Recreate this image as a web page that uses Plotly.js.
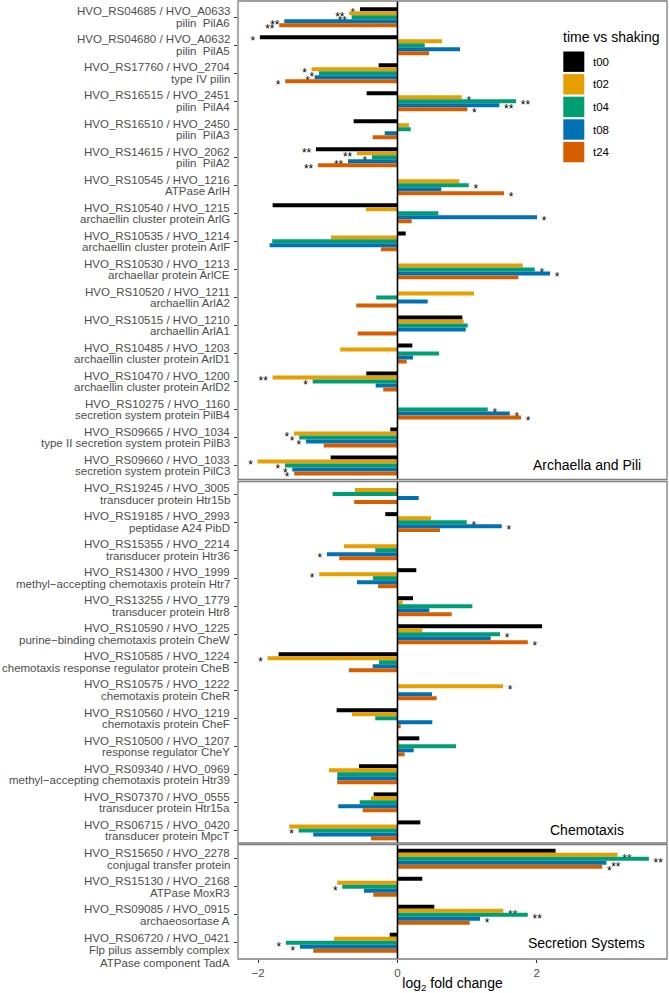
<!DOCTYPE html>
<html><head><meta charset="utf-8">
<script src="https://cdn.plot.ly/plotly-3.0.1.min.js"></script>
<style>html,body{margin:0;padding:0;background:#fff}</style>
</head><body><div id="chart" style="width:669px;height:993px"></div>
<script>
// ---------- DATA ----------
const panelNames = ["Archaella and Pili", "Chemotaxis", "Secretion Systems"];
const timePoints = ["t00", "t02", "t04", "t08", "t24"];
const timeColors = ["#000000", "#E69F00", "#009E73", "#0072B2", "#D55E00"];

const geneRS = [
  "HVO_RS04685","HVO_RS04680","HVO_RS17760","HVO_RS16515","HVO_RS16510","HVO_RS14615","HVO_RS10545","HVO_RS10540","HVO_RS10535",
  "HVO_RS10530","HVO_RS10520","HVO_RS10515","HVO_RS10485","HVO_RS10470","HVO_RS10275","HVO_RS09665","HVO_RS09660",
  "HVO_RS19245","HVO_RS19185","HVO_RS15355","HVO_RS14300","HVO_RS13255","HVO_RS10590","HVO_RS10585","HVO_RS10575",
  "HVO_RS10560","HVO_RS10500","HVO_RS09340","HVO_RS07370","HVO_RS06715",
  "HVO_RS15650","HVO_RS15130","HVO_RS09085","HVO_RS06720"];
const geneHVO = [
  "HVO_A0633","HVO_A0632","HVO_2704","HVO_2451","HVO_2450","HVO_2062","HVO_1216","HVO_1215","HVO_1214",
  "HVO_1213","HVO_1211","HVO_1210","HVO_1203","HVO_1200","HVO_1160","HVO_1034","HVO_1033",
  "HVO_3005","HVO_2993","HVO_2214","HVO_1999","HVO_1779","HVO_1225","HVO_1224","HVO_1222",
  "HVO_1219","HVO_1207","HVO_0969","HVO_0555","HVO_0420",
  "HVO_2278","HVO_2168","HVO_0915","HVO_0421"];
const geneDesc = [
  "pilin\u00a0 PilA6","pilin\u00a0 PilA5","type IV pilin","pilin\u00a0 PilA4","pilin\u00a0 PilA3","pilin\u00a0 PilA2",
  "ATPase ArlH","archaellin cluster protein ArlG","archaellin cluster protein ArlF","archaellar protein ArlCE",
  "archaellin ArlA2","archaellin ArlA1","archaellin cluster protein ArlD1","archaellin cluster protein ArlD2",
  "secretion system protein PilB4","type II secretion system protein PilB3","secretion system protein PilC3",
  "transducer protein Htr15b","peptidase A24 PibD","transducer protein Htr36","methyl\u2212accepting chemotaxis protein Htr7",
  "transducer protein Htr8","purine\u2212binding chemotaxis protein CheW","chemotaxis response regulator protein CheB",
  "chemotaxis protein CheR","chemotaxis protein CheF","response regulator CheY","methyl\u2212accepting chemotaxis protein Htr39",
  "transducer protein Htr15a","transducer protein MpcT",
  "conjugal transfer protein","ATPase MoxR3","archaeosortase A","Flp pilus assembly complex|ATPase component TadA"];
const genePanel = [0,0,0,0,0,0,0,0,0,0,0,0,0,0,0,0,0, 1,1,1,1,1,1,1,1,1,1,1,1,1, 2,2,2,2];

const t00 = [-0.539,-1.976,-0.270,-0.443,-0.629,-1.171,null,-1.793,0.118,null,null,0.931,0.213,-0.448,null,-0.103,-0.960,
  null,-0.175,null,0.270,0.223,2.076,-1.707,null,-0.874,0.313,-0.553,-0.342,0.328,
  2.27,0.356,0.529,-0.112];
const t02 = [-0.693,0.639,-1.233,0.922,0.165,-0.582,0.888,-0.453,-0.955,1.799,1.099,0.951,-0.822,-1.793,null,-1.487,-2.009,
  -0.611,0.481,-0.769,-1.124,0.075,0.356,-1.865,1.516,-0.654,0.026,-0.984,-0.381,-1.555,
  3.16,-0.865,1.52,-0.912];
const t04 = [-0.658,0.391,-1.128,1.703,0.190,-0.366,1.023,0.586,-1.799,1.971,-0.305,1.009,0.596,-1.218,1.296,-1.411,-1.616,
  -0.931,0.994,-0.319,-0.352,1.075,1.473,-0.266,null,-0.319,0.841,-0.865,-0.543,-1.420,
  3.61,-0.793,1.871,-1.602];
const t08 = [-1.626,0.898,-1.190,1.463,-0.184,-0.711,0.629,2.004,-1.836,2.191,0.434,0.980,0.223,-0.313,1.612,-1.315,-1.511,
  0.305,1.497,-1.013,-0.582,0.457,1.339,-0.356,0.496,0.500,0.233,-0.865,-0.851,-1.210,
  3.00,-0.481,1.185,-1.401];
const t24 = [-1.698,0.453,-1.612,1.003,-0.356,-1.142,1.530,0.204,-0.237,1.736,-0.592,-0.572,0.132,-0.204,1.774,-1.060,-1.483,
  -0.621,0.611,-0.836,-0.280,0.779,1.871,-0.697,0.563,0.046,0.103,-0.865,-0.500,-0.381,
  2.94,-0.348,1.037,-1.210];

const sig00 = ["*","*","","","","**","","","","","","","","","","","", "","","","","","","","","","","","","", "","","",""];
const sig02 = ["**","","*","*","","**","","","","","","","","**","","*","*", "","","","*","","","*","*","","","","","", "**","","**",""];
const sig04 = ["**","","*","**","","*","*","","","*","","","","*","*","*","*", "","*","","","","*","","","","","","","*", "**","*","**","*"];
const sig08 = ["**","","*","**","","**","","*","","*","","","","","*","*","*", "","*","*","","","","","","","","","","", "**","","*","*"];
const sig24 = ["**","","*","*","","**","*","","","","","","","","*","","*", "","","","","","*","","","","","","","", "*","","",""];

const xTicks = [-2, 0, 2];

// ---------- LAYOUT GEOMETRY ----------
const FONT = "Liberation Sans, Arial, Helvetica, sans-serif";
const W = 669, H = 993, ML = 238, MR = 2, MT = 1, MB = 34;
const plotW = W - ML - MR, plotH = H - MT - MB;
const px2x = px => (px - ML) / plotW;
const py2y = py => (H - MB - py) / plotH;
const panelTopPx = [1, 481.5, 844.5];
const panelBotPx = [479.5, 843, 959];
const panelPad = [[0.58, 0.50], [0.45, 0.45], [0.51, 0.58]];

const series = [t00, t02, t04, t08, t24];
const sigs = [sig00, sig02, sig04, sig08, sig24];

const traces = [];
const annotations = [];
const shapes = [];
const layout = {
  width: W, height: H,
  margin: {l: ML, r: MR, t: MT, b: MB, pad: 0},
  paper_bgcolor: "#ffffff", plot_bgcolor: "#ffffff",
  font: {family: FONT, size: 11.5, color: "#4D4D4D"},
  showlegend: false,
  barmode: "group", bargap: 0.287, bargroupgap: 0,
  xaxis: {
    range: [-2.29, 3.87], anchor: "y3", showgrid: false, zeroline: false, showline: false,
    ticks: "outside", ticklen: 3, tickwidth: 1, tickcolor: "#333333",
    tickmode: "array", tickvals: xTicks,
    tickfont: {family: FONT, size: 11.5, color: "#4D4D4D"},
    title: {text: "log<sub>2</sub> fold change", font: {family: FONT, size: 14, color: "#000000"}, standoff: 3}
  }
};

for (let p = 0; p < 3; p++) {
  const yName = p === 0 ? "y" : "y" + (p + 1);
  const axKey = p === 0 ? "yaxis" : "yaxis" + (p + 1);
  const idx = genePanel.map((g, i) => g === p ? i : -1).filter(i => i >= 0);
  const cats = idx.map(i => geneRS[i]);
  const n = cats.length;
  layout[axKey] = {
    type: "category", categoryorder: "array", categoryarray: cats,
    range: [n - 1 + panelPad[p][1], -panelPad[p][0]],
    domain: [py2y(panelBotPx[p]), py2y(panelTopPx[p])],
    anchor: "x", showgrid: false, zeroline: false, showline: false,
    showticklabels: false, ticks: "outside", ticklen: 3, tickwidth: 1, tickcolor: "#333333",
    tickmode: "array", tickvals: cats
  };
  for (let s = 0; s < 5; s++) {
    const vals = idx.map(i => series[s][i]);
    const txt = idx.map(i => {
      const st = sigs[s][i];
      const v = series[s][i];
      if (!st || v === null) return "";
      return v >= 0 ? "\u00a0<sub>" + st + "</sub>" : "<sub>" + st + "</sub>\u00a0";
    });
    traces.push({
      type: "bar", orientation: "h", x: vals, y: cats,
      xaxis: "x", yaxis: yName, name: timePoints[s],
      marker: {color: timeColors[s], line: {width: 0}},
      text: txt, textposition: "outside", textangle: 0, constraintext: "none",
      textfont: {family: FONT, size: 17, color: "#000000"},
      cliponaxis: false, hoverinfo: "x+y+name"
    });
  }
  // y labels
  idx.forEach((gi, k) => {
    const lines = [geneRS[gi] + " / " + geneHVO[gi]].concat(geneDesc[gi].split("|"));
    const shifts = lines.length === 2 ? [5.8, -5.8] : [4.4, -7.3, -20];
    lines.forEach((ln, j) => {
      annotations.push({
        xref: "paper", x: 0, xanchor: "right", xshift: -6,
        yref: yName, y: k, yanchor: "middle", yshift: shifts[j],
        text: ln, showarrow: false, align: "right",
        font: {family: FONT, size: 11.5, color: "#4D4D4D"}
      });
    });
  });
  // panel label
  annotations.push({
    xref: "x", x: 2.718, yref: yName, y: n - 1, xanchor: "center", yanchor: "middle",
    text: panelNames[p], showarrow: false, font: {family: FONT, size: 14, color: "#000000"}
  });
  // zero line & panel border
  shapes.push({type: "line", xref: "x", x0: 0, x1: 0, yref: yName + " domain", y0: 0, y1: 1,
    line: {color: "#000000", width: 1.6}, layer: "above"});
  shapes.push({type: "rect", xref: "x domain", x0: 0, x1: 1, yref: yName + " domain", y0: 0, y1: 1,
    line: {color: "#7F7F7F", width: 1.3}, fillcolor: "rgba(0,0,0,0)", layer: "above"});
}

// custom legend
annotations.push({
  xref: "paper", yref: "paper", x: px2x(561.3), y: py2y(37.3), xanchor: "left", yanchor: "middle",
  text: "time vs shaking", showarrow: false, font: {family: FONT, size: 14, color: "#000000"}
});
timePoints.forEach((tp, s) => {
  const c = 61.7 + s * 22.6;
  shapes.push({type: "rect", xref: "paper", yref: "paper",
    x0: px2x(563.3), x1: px2x(584.3), y0: py2y(c + 10.2), y1: py2y(c - 10.2),
    fillcolor: timeColors[s], line: {width: 0}, layer: "above"});
  annotations.push({
    xref: "paper", yref: "paper", x: px2x(590.7), y: py2y(c), xanchor: "left", yanchor: "middle",
    text: tp, showarrow: false, font: {family: FONT, size: 11.5, color: "#000000"}
  });
});

layout.annotations = annotations;
layout.shapes = shapes;

Plotly.newPlot("chart", traces, layout, {displayModeBar: false, staticPlot: true});
</script>
</body></html>
